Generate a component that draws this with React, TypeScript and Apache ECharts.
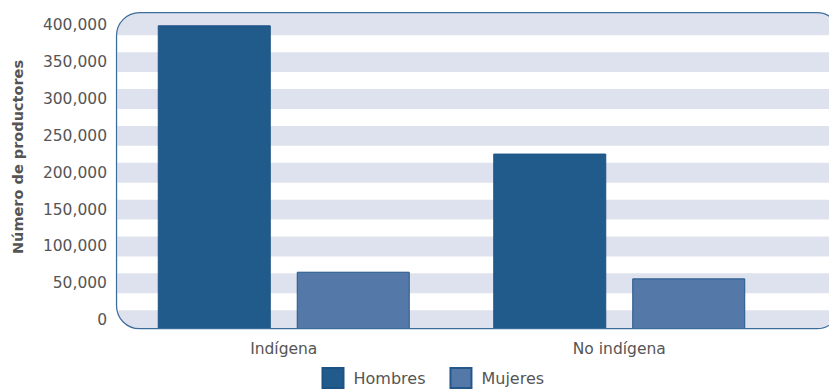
import React, { useEffect, useRef } from "react";
import * as echarts from "echarts";

const categories = ["Indígena", "No indígena"];
const seriesNames = ["Hombres", "Mujeres"];
const hombres = [400000, 226000];
const mujeres = [65700, 56700];
const yTicks = [0, 50000, 100000, 150000, 200000, 250000, 300000, 350000, 400000];
const yTitle = "Número de productores";

const FONT = "DejaVu Sans";
const TEXT = "#555555";
const STRIPE = "#dee2ee";
const FRAME = { x: 116.5, y: 12.7, w: 723.5, h: 316, r: 23 };

export default function App() {
  const ref = useRef<HTMLDivElement>(null);
  useEffect(() => {
    if (!ref.current) return;
    const chart = echarts.init(ref.current, undefined, { renderer: "svg" });
    const gaps = yTicks.slice(0, -1).map((v, i) => [0, v + 13500, yTicks[i + 1] - 13500]);
    chart.setOption({
      animation: false,
      grid: { left: 116, right: 42, top: 15, bottom: 61, containLabel: false },
      legend: {
        data: seriesNames,
        left: 321.5,
        top: 367,
        padding: 0,
        itemWidth: 21,
        itemHeight: 20,
        itemGap: 24,
        icon: "rect",
        textStyle: { fontFamily: FONT, fontSize: 16, color: TEXT, padding: [2, 0, 0, 5] },
      },
      xAxis: {
        type: "category",
        data: categories,
        axisLine: { show: false },
        axisTick: { show: false },
        axisLabel: { fontFamily: FONT, fontSize: 15.5, color: TEXT, margin: 12 },
      },
      yAxis: {
        type: "value",
        min: -12000,
        max: 414000,
        startValue: -12000,
        splitLine: { show: false },
        axisLine: { show: false },
        axisTick: { show: false },
        axisLabel: {
          customValues: yTicks,
          fontFamily: FONT,
          fontSize: 15.5,
          color: TEXT,
          margin: 9,
          formatter: (v: number) => v.toLocaleString("en-US"),
        },
      },
      graphic: [
        {
          type: "rect",
          z: -10,
          silent: true,
          shape: { x: FRAME.x, y: FRAME.y, width: FRAME.w, height: FRAME.h, r: FRAME.r },
          style: { fill: STRIPE },
        },
        {
          type: "rect",
          z: 50,
          silent: true,
          shape: { x: FRAME.x, y: FRAME.y, width: FRAME.w, height: FRAME.h, r: FRAME.r },
          style: { fill: "none", stroke: "#3d6c9b", lineWidth: 1.2 },
        },
        {
          type: "text",
          x: 18,
          y: 157,
          rotation: Math.PI / 2,
          style: {
            text: yTitle,
            fontFamily: FONT,
            fontSize: 14.5,
            fontWeight: "bold",
            fill: TEXT,
            align: "center",
            verticalAlign: "middle",
            textAlign: "center",
            textVerticalAlign: "middle",
          },
        },
      ],
      series: [
        {
          type: "custom",
          name: "stripes",
          silent: true,
          z: 1,
          clip: false,
          data: gaps,
          encode: { x: 0, y: [1, 2] },
          renderItem: (params: any, api: any) => {
            const y1 = api.coord([0, api.value(2)])[1];
            const y2 = api.coord([0, api.value(1)])[1];
            return {
              type: "rect",
              shape: { x: FRAME.x + 1, y: y1, width: FRAME.w - 2, height: y2 - y1 },
              style: { fill: "#ffffff" },
            };
          },
        },
        {
          type: "bar",
          name: seriesNames[0],
          data: hombres,
          barWidth: 113,
          barGap: "23%",
          z: 3,
          itemStyle: { color: "#215b8c", borderColor: "#1d5284", borderWidth: 1 },
        },
        {
          type: "bar",
          name: seriesNames[1],
          data: mujeres,
          barWidth: 113,
          barGap: "23%",
          z: 3,
          itemStyle: { color: "#5478a8", borderColor: "#24578a", borderWidth: 1 },
        },
      ],
    });
    return () => chart.dispose();
  }, []);
  return (
    <div
      ref={ref}
      style={{ position: "fixed", left: 0, top: 0, width: 829, height: 390, background: "#fff" }}
    />
  );
}
